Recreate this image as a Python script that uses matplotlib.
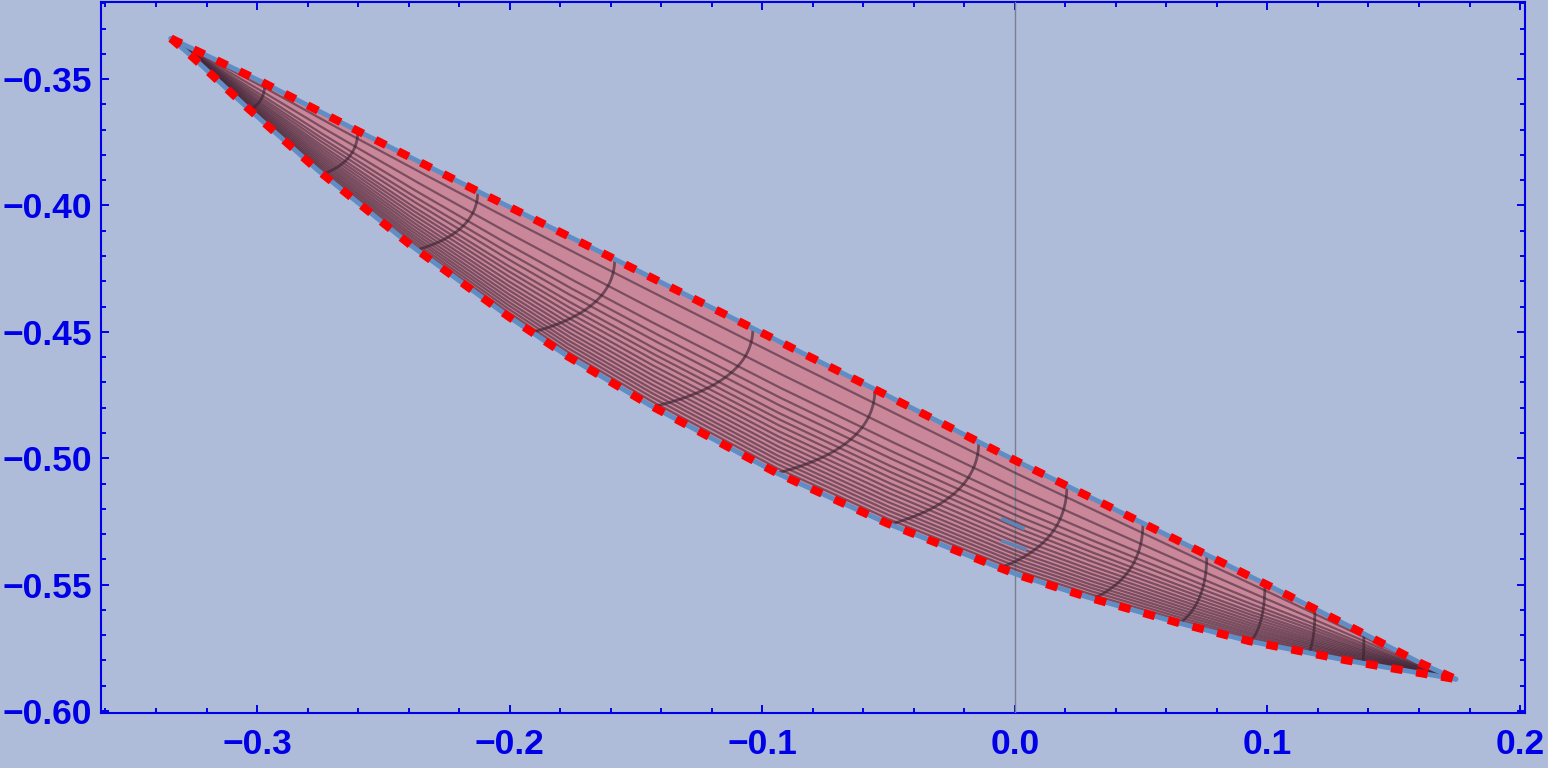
import numpy as np
import matplotlib
matplotlib.use("Agg")
import matplotlib.pyplot as plt
from matplotlib.ticker import MultipleLocator, FuncFormatter

# upper edge of the region (reads as a straight line)
upper_x = [-0.3341, -0.2977, -0.2637, -0.2126, -0.1615, -0.1021, -0.0515,
           -0.0008, 0.0507, 0.1017, 0.1354, 0.1607, 0.1746]
upper_y = [-0.3339, -0.3513, -0.3687, -0.3944, -0.4197, -0.4494, -0.4747,
           -0.5004, -0.5257, -0.5510, -0.5680, -0.5811, -0.5874]

# lower edge of the region
lower_x = [-0.3341, -0.3254, -0.3040, -0.2759, -0.2387, -0.2007, -0.1770,
           -0.1445, -0.0942, -0.0507, -0.0067, 0.0028, 0.0289, 0.0653,
           0.0930, 0.1310, 0.1492, 0.1746]
lower_y = [-0.3339, -0.3414, -0.3612, -0.3861, -0.4161, -0.4438, -0.4597,
           -0.4790, -0.5059, -0.5257, -0.5431, -0.5467, -0.5550, -0.5653,
           -0.5724, -0.5799, -0.5831, -0.5874]

# dark cross arcs: x where each arc meets the upper and the lower edge
arc_top_x = [-0.2969, -0.2601, -0.2126, -0.1584, -0.1037, -0.0554, -0.0143,
             0.0206, 0.0507, 0.0760, 0.0990, 0.1188, 0.1382]
arc_bot_x = [-0.3029, -0.2740, -0.2367, -0.1912, -0.1433, -0.0942, -0.0495,
             -0.0059, 0.0309, 0.0653, 0.0934, 0.1164, 0.1378]

# long mesh lines, as fraction of the way from upper to lower edge
mesh_frac = [0.11, 0.24, 0.345, 0.42, 0.48, 0.54, 0.587, 0.633, 0.678,
             0.719, 0.757, 0.795, 0.83, 0.865, 0.897, 0.93, 0.962]

# two small blue marks near x = 0
mark_x = [[-0.0048, 0.0032], [-0.0048, 0.0040]]
mark_y = [[-0.5241, -0.5277], [-0.5328, -0.5360]]

BG = "#AFBCD9"
BLUE = "#0000E8"

plt.rcParams["font.family"] = ["Liberation Sans", "DejaVu Sans"]

fig = plt.figure(figsize=(15.48, 7.68), dpi=100, facecolor=BG)
ax = fig.add_axes([0.0652, 0.0716, 0.92, 0.9258])
ax.set_facecolor(BG)

ux, uy = np.array(upper_x), np.array(upper_y)
lx, ly = np.array(lower_x), np.array(lower_y)

# filled region
poly_x = np.concatenate([ux, lx[::-1]])
poly_y = np.concatenate([uy, ly[::-1]])
ax.fill(poly_x, poly_y, color="#CA8799", zorder=2, lw=0)

ax.axvline(0, color="#7a7f8c", lw=1, zorder=3)

# long mesh lines
xs = np.linspace(upper_x[0], upper_x[-1], 800)
top = np.interp(xs, ux, uy)
bot = np.interp(xs, lx, ly)
for f in mesh_frac:
    ax.plot(xs, top + f * (bot - top), color="#44283a", alpha=0.6, lw=1.6,
            zorder=4)

# cross arcs: vertical at the upper edge, bending into the lower edge
vs = np.linspace(0, 1, 60)
for xt, xb in zip(arc_top_x, arc_bot_x):
    yt = np.interp(xt, ux, uy)
    yb = np.interp(xb, lx, ly)
    cx, cy = xt, yt + 0.7 * (yb - yt)
    px = (1 - vs) ** 2 * xt + 2 * vs * (1 - vs) * cx + vs ** 2 * xb
    py = (1 - vs) ** 2 * yt + 2 * vs * (1 - vs) * cy + vs ** 2 * yb
    ax.plot(px, py, color="#3a2230", alpha=0.62, lw=2.0, zorder=4)

# edges
ax.plot(ux, uy, color="#5F8DC4", lw=3.5, zorder=5, solid_capstyle="round")
ax.plot(lx, ly, color="#5F8DC4", lw=3.5, zorder=5, solid_capstyle="round")
ax.plot(ux, uy, color="#FF0000", lw=5.8, dashes=(1.45, 1.7), zorder=6,
        dash_capstyle="butt")
ax.plot(lx, ly, color="#FF0000", lw=5.8, dashes=(1.45, 1.7), zorder=6,
        dash_capstyle="butt")

for mx, my in zip(mark_x, mark_y):
    ax.plot(mx, my, color="#5B84B8", lw=2.5, zorder=7)

ax.set_xlim(-0.3618, 0.2020)
ax.set_ylim(-0.6008, -0.3195)

ax.xaxis.set_major_locator(MultipleLocator(0.1))
ax.xaxis.set_minor_locator(MultipleLocator(0.02))
ax.yaxis.set_major_locator(MultipleLocator(0.05))
ax.yaxis.set_minor_locator(MultipleLocator(0.01))
ax.xaxis.set_major_formatter(FuncFormatter(lambda v, p: f"{v:.1f}".replace("-", "\u2212")))
ax.yaxis.set_major_formatter(FuncFormatter(lambda v, p: f"{v:.2f}".replace("-", "\u2212")))

ax.tick_params(which="both", direction="in", top=True, right=True,
               color=BLUE, width=1.4)
ax.tick_params(which="major", length=6)
ax.tick_params(which="minor", length=3.5)
ax.tick_params(axis="x", which="major", pad=11)
ax.tick_params(axis="y", which="major", pad=6.5)
for lab in ax.get_xticklabels() + ax.get_yticklabels():
    lab.set_fontsize(25.5)
    lab.set_fontweight("bold")
    lab.set_color(BLUE)
for sp in ax.spines.values():
    sp.set_color(BLUE)
    sp.set_linewidth(1.5)

fig.savefig("out.png", dpi=100, facecolor=BG)
